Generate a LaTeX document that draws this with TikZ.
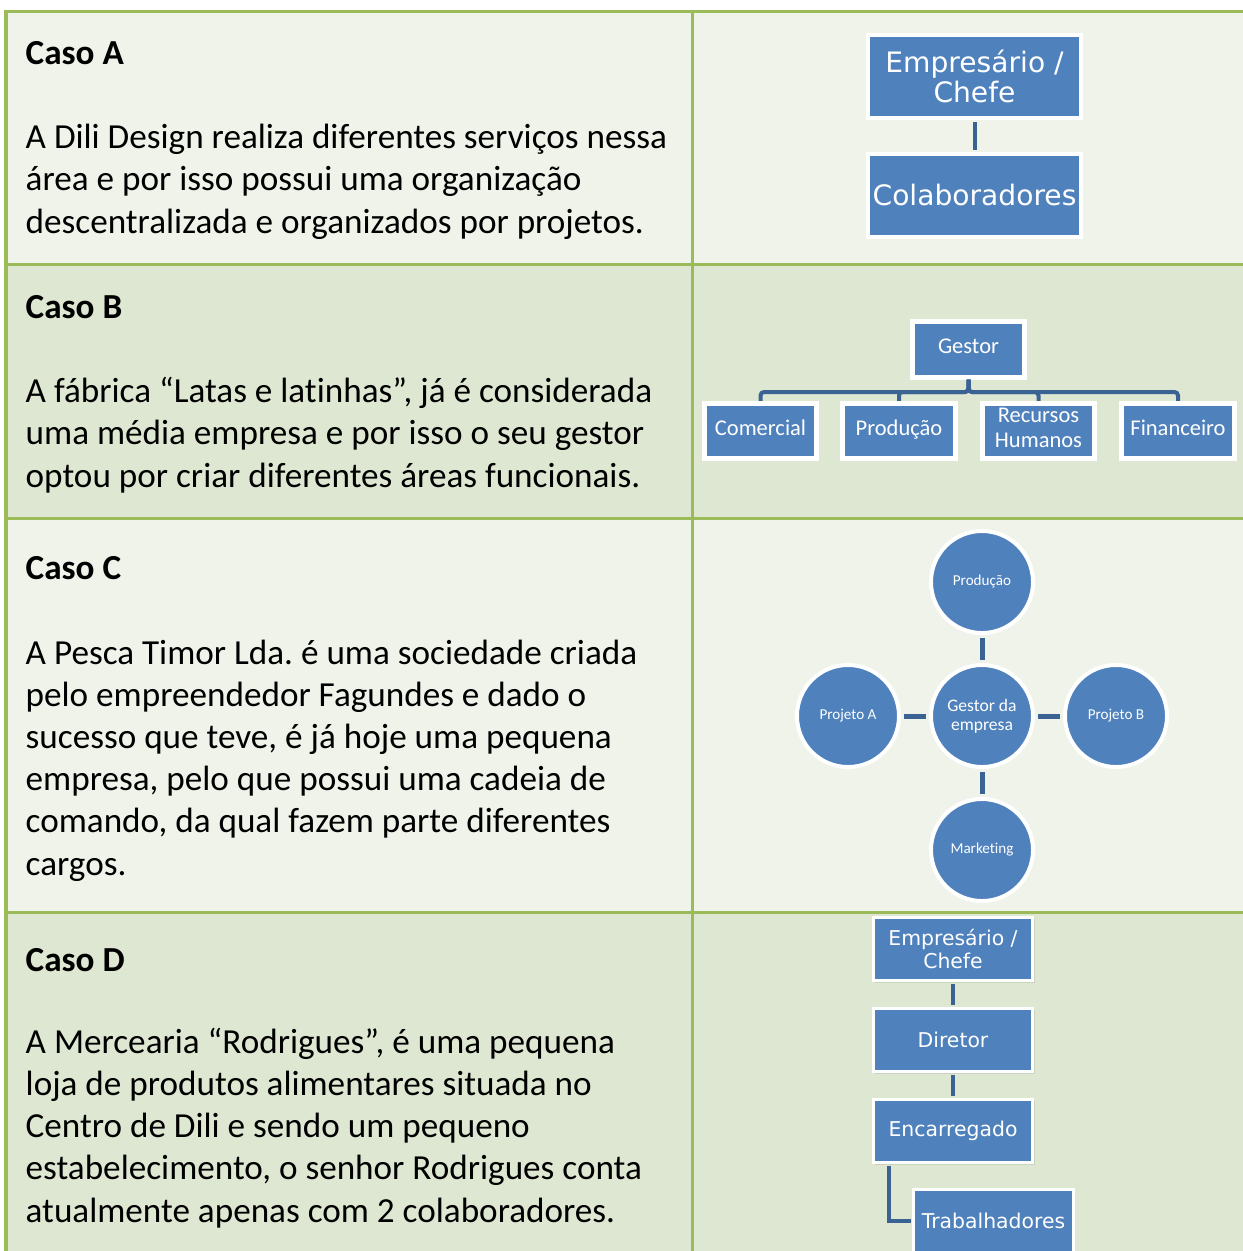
\documentclass[tikz,border=0pt]{standalone}
\usepackage{fontspec}
\setmainfont{Carlito}[RawFeature={-liga,-clig,-calt,-dlig}]
\newfontfamily\boxfont{DejaVu Sans}
\usetikzlibrary{positioning,shadows}
\definecolor{rowlight}{RGB}{239,243,234}
\definecolor{rowdark}{RGB}{222,231,209}
\definecolor{gridgreen}{RGB}{155,187,89}
\definecolor{orgblue}{RGB}{79,129,189}
\definecolor{linkblue}{RGB}{58,99,148}
\frenchspacing

\begin{document}
\begin{tikzpicture}[
 x=0.01cm,y=-0.01cm,
 grid/.style={gridgreen,line width=0.03cm},
 head/.style={anchor=base west,inner sep=0pt,font=\fontsize{10}{12}\selectfont\bfseries},
 body/.style={anchor=base west,inner sep=0pt,align=left,font=\fontsize{10}{12}\selectfont},
 orgbox/.style={draw=white,fill=orgblue,text=white,align=center,inner sep=0pt,
   drop shadow={opacity=0.2,shadow xshift=0.02cm,shadow yshift=-0.02cm}},
 bigbox/.style={orgbox,line width=0.04cm,minimum width=2.13cm,minimum height=0.83cm,
   font=\boxfont\fontsize{8}{8.6}\selectfont},
 smallbox/.style={orgbox,line width=0.03cm,minimum width=1.59cm,minimum height=0.63cm,
   font=\boxfont\fontsize{5.8}{6.3}\selectfont},
 unit/.style={orgbox,line width=0.05cm,minimum width=1.12cm,minimum height=0.55cm,
   text depth=0.2em,font=\fontsize{6.4}{7.1}\selectfont},
 hub/.style={circle,draw=white,fill=orgblue,text=white,align=center,inner sep=0pt,
   line width=0.04cm,minimum size=1.02cm,font=\fontsize{4.3}{5}\selectfont},
 link/.style={linkblue,line width=0.04cm},
 spoke/.style={linkblue,line width=0.05cm,shorten <=0.03cm,shorten >=0.03cm}
]
\useasboundingbox (0,0) rectangle (1243,1251);
\clip (0,0) rectangle (1243,1251);

% table rows
\fill[white] (0,0) rectangle (1243,1251);
\fill[rowlight] (6,11) rectangle (1250,264);
\fill[rowdark] (6,264) rectangle (1250,518);
\fill[rowlight] (6,518) rectangle (1250,912);
\fill[rowdark] (6,912) rectangle (1250,1260);
\draw[grid] (1250,11) -- (6,11) -- (6,1260);
\foreach \y in {264,518,912}
  \draw[grid] (6,\y) -- (1250,\y);
\draw[grid] (692,11) -- (692,1260);

% texts (body nodes sit on their last baseline)
\node[head] (hA) at (25,64) {Caso A};
\node[body] (tA) at (25,233) {A Dili Design realiza diferentes serviços nessa\\área e por isso possui uma organização\\descentralizada e organizados por projetos.};
\node[head] (hB) at (25,318) {Caso B};
\node[body] (tB) at (25,487) {A fábrica “Latas e latinhas”, já é considerada\\uma média empresa e por isso o seu gestor\\optou por criar diferentes áreas funcionais.};
\node[head] (hC) at (25,579) {Caso C};
\node[body] (tC) at (25,875) {A Pesca Timor Lda. é uma sociedade criada\\pelo empreendedor Fagundes e dado o\\sucesso que teve, é já hoje uma pequena\\empresa, pelo que possui uma cadeia de\\comando, da qual fazem parte diferentes\\cargos.};
\node[head] (hD) at (25,971) {Caso D};
\node[body] (tD) at (25,1222) {A Mercearia “Rodrigues”, é uma pequena\\loja de produtos alimentares situada no\\Centro de Dili e sendo um pequeno\\estabelecimento, o senhor Rodrigues conta\\atualmente apenas com 2 colaboradores.};

% caso A
\node[bigbox] (chefeA) at (974.5,76.5) {Empresário /\\Chefe};
\node[bigbox] (colab) at (974.5,195.5) {Colaboradores};
\draw[link,shorten <=0.02cm,shorten >=0.02cm] (chefeA.south) -- (colab.north);

% caso B
\node[unit] (gestor) at (968.5,349.5) {Gestor};
\coordinate (bar) at (968.5,392);
\foreach \n/\x/\t in {com/760.5/Comercial,prd/899/Produção,rh/1038.5/{Recursos\\Humanos},fin/1178/Financeiro}{
  \node[unit] (\n) at (\x,431) {\t};
  \draw[link,rounded corners=1pt] (gestor.south) |- (bar -| \n.north) -- (\n.north);
}

% caso C
\node[hub,font=\fontsize{5}{5.4}\selectfont] (gestorC) at (982,716) {Gestor da\\empresa};
\foreach \n/\x/\y/\t in {prodC/982/582/Produção,projA/848/716/Projeto A,projB/1116/716/Projeto B,mkt/982/850/Marketing}{
  \node[hub] (\n) at (\x,\y) {\t};
  \draw[spoke] (gestorC) -- (\n);
}

% caso D
\node[smallbox] (chefeD) at (953,949) {Empresário /\\Chefe};
\node[smallbox] (diretor) at (953,1040) {Diretor};
\node[smallbox] (encarr) at (953,1131) {Encarregado};
\node[smallbox] (trab) at (993.5,1221) {Trabalhadores};
\draw[link,shorten <=0.015cm,shorten >=0.015cm] (chefeD.south) -- (diretor.north);
\draw[link,shorten <=0.015cm,shorten >=0.015cm] (diretor.south) -- (encarr.north);
\draw[link,shorten <=0.015cm,shorten >=0.015cm] ([xshift=0.17cm]encarr.south west) |- (trab.west);
\end{tikzpicture}
\end{document}
